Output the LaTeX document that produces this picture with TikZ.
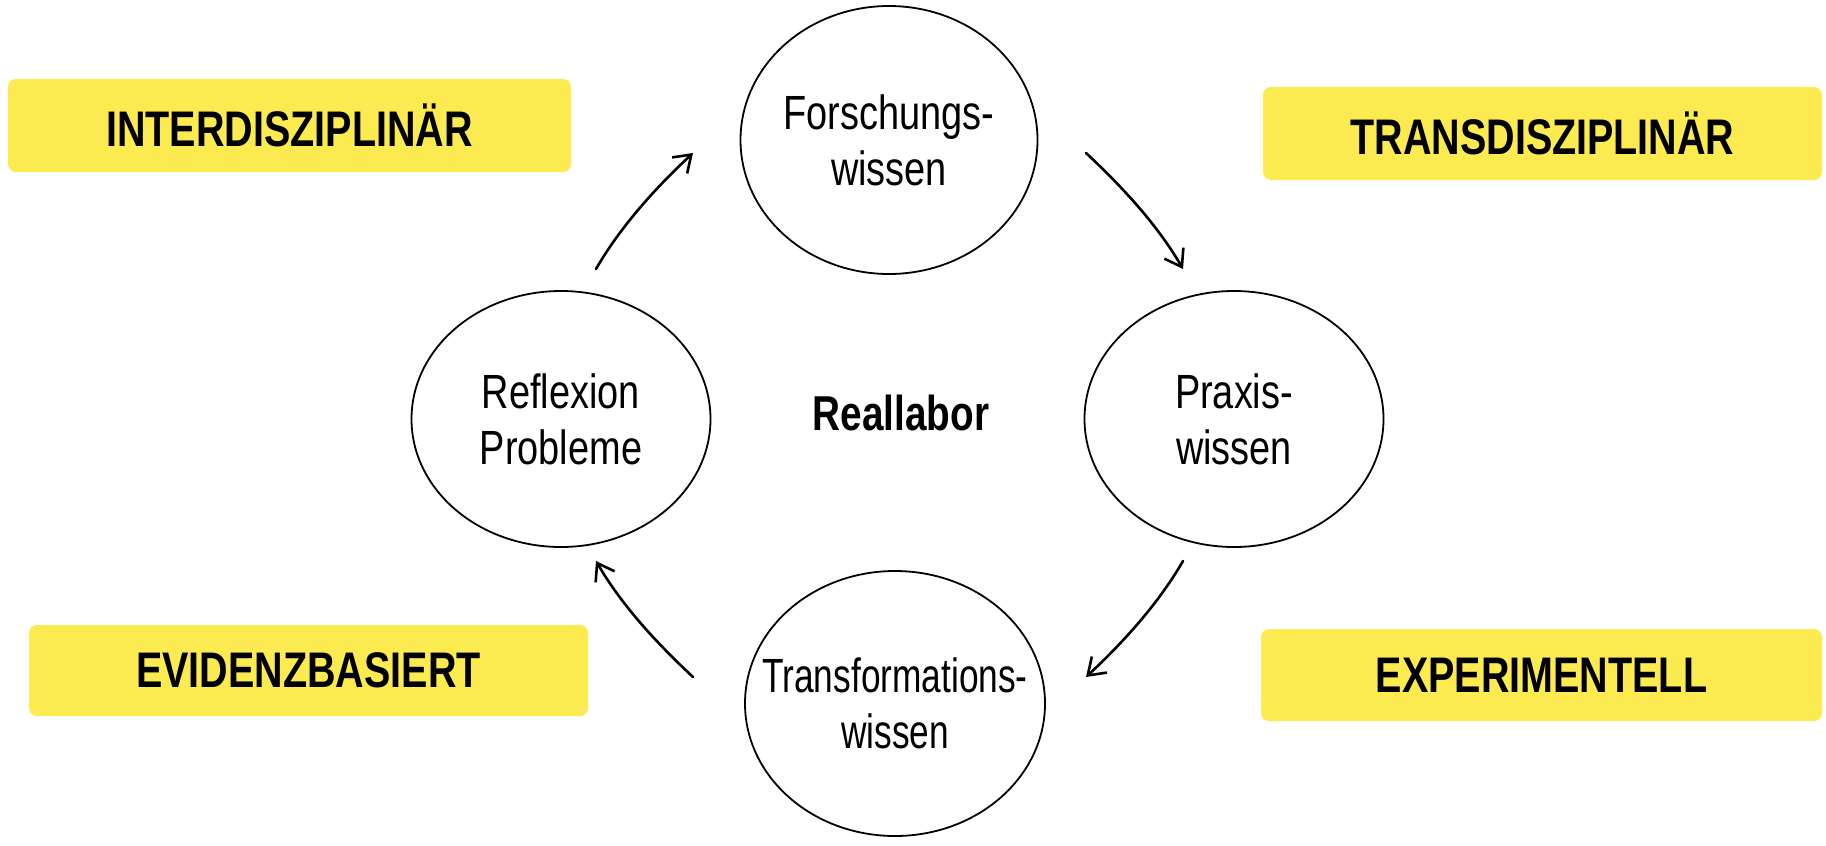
\documentclass[tikz,border=0pt]{standalone}
\usepackage{fontspec}
\setmainfont{Liberation Sans}[FakeStretch=0.79]
\newfontfamily\slimfont{Liberation Sans}[FakeStretch=0.735]
\usetikzlibrary{shapes.geometric,arrows.meta}
\definecolor{boxyellow}{RGB}{252,235,80}
\begin{document}
\begin{tikzpicture}[x=1pt,y=-1pt,
  tag/.style={fill=boxyellow,rounded corners=8pt,inner sep=0pt,
    font=\fontsize{50}{56}\selectfont\bfseries},
  knot/.style={draw=black,line width=1.8pt,ellipse,inner xsep=-40pt,inner ysep=0pt,align=center,
    font=\fontsize{48}{56}\selectfont},
  flow/.style={line width=2.6pt,line cap=round,-{Straight Barb[length=16pt,width=22pt,line width=2.6pt]}}]
\useasboundingbox (0,0) rectangle (1826,846);
% yellow tags
\node[tag,minimum width=563pt,minimum height=93pt] (inter) at (289.5,125.5) {INTERDISZIPLIN\"AR};
\node[tag,minimum width=559pt,minimum height=93pt] (trans) at (1542.5,133.5) {TRANSDISZIPLIN\"AR};
\node[tag,minimum width=559pt,minimum height=91pt] (evid) at (308.5,670.5) {EVIDENZBASIERT};
\node[tag,minimum width=561pt,minimum height=92pt] (expe) at (1541.5,675) {EXPERIMENTELL};
% ellipses
\node[knot,minimum width=297pt,minimum height=268pt] (fw) at (889,140) {Forschungs-\\wissen};
\node[knot,minimum width=299pt,minimum height=256pt] (rp) at (561,419) {Reflexion\\Probleme};
\node[knot,minimum width=299pt,minimum height=256pt] (pw) at (1234,419) {Praxis-\\wissen};
\node[knot,minimum width=300pt,minimum height=265pt,font=\slimfont\fontsize{48}{56}\selectfont] (tw) at (895,703.5) {Transformations-\\wissen};
% centre label
\node[font=\fontsize{49}{56}\selectfont\bfseries] (real) at (901,413) {Reallabor};
% arrow end points
\coordinate (a1s) at (596,269);  \coordinate (a1e) at (693,153);
\coordinate (a2s) at (1086,153); \coordinate (a2e) at (1183,269);
\coordinate (a3s) at (1183,561); \coordinate (a3e) at (1086,677);
\coordinate (a4s) at (693,677);  \coordinate (a4e) at (596,561);
\draw[flow] (a1s) .. controls (621,225.7) and (656.4,187.1) .. (a1e);
\draw[flow] (a2s) .. controls (1122.6,187.1) and (1158,225.7) .. (a2e);
\draw[flow] (a3s) .. controls (1158,604.3) and (1122.6,642.9) .. (a3e);
\draw[flow] (a4s) .. controls (656.4,642.9) and (621,604.3) .. (a4e);
\end{tikzpicture}
\end{document}
